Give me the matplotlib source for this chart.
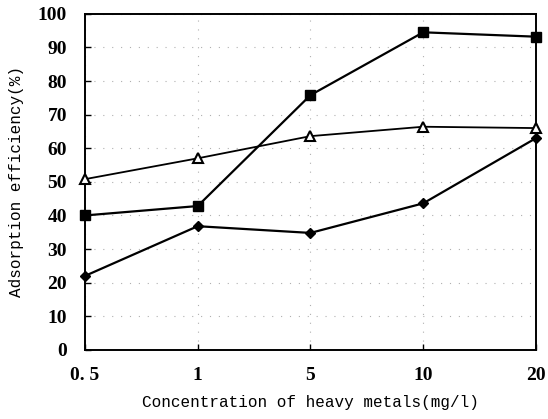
import matplotlib.pyplot as plt

conc_labels = ['0. 5', '1', '5', '10', '20']
square_vals = [40, 42.8, 75.8, 94.5, 93.2]
triangle_vals = [50.8, 57, 63.6, 66.4, 66.0]
diamond_vals = [22, 36.8, 34.8, 43.6, 63]

fig = plt.figure(figsize=(5.48, 4.19), dpi=100)
ax = fig.add_axes([0.155, 0.165, 0.823, 0.802])

x = range(len(conc_labels))
ax.plot(x, square_vals, color='black', lw=1.6, marker='s', ms=6.5, clip_on=False, zorder=3)
ax.plot(x, triangle_vals, color='black', lw=1.3, marker='^', ms=7, mfc='white', mew=1.5, clip_on=False, zorder=3)
ax.plot(x, diamond_vals, color='black', lw=1.6, marker='D', ms=5.5, clip_on=False, zorder=3)

ax.set_xlim(0, 4)
ax.set_ylim(0, 100)
ax.set_xticks(list(x))
ax.set_xticklabels(conc_labels)
ax.set_yticks(range(0, 101, 10))

tick_font = {'family': 'Liberation Serif', 'weight': 'bold', 'size': 14}
for lab in ax.get_xticklabels() + ax.get_yticklabels():
    lab.set_fontproperties(tick_font)

ax.tick_params(axis='y', direction='in', length=4, width=1, pad=13)
ax.tick_params(axis='x', direction='in', length=4, width=1, pad=12)
ax.grid(color='#b0b0b0', linestyle=(0, (1, 7)), linewidth=0.8)
for s in ax.spines.values():
    s.set_linewidth(1.4)

ax.set_xlabel('Concentration of heavy metals(mg/l)', family='Liberation Mono', fontsize=11.5, labelpad=8)
ax.set_ylabel('Adsorption efficiency(%)', family='Liberation Mono', fontsize=11.5, labelpad=10)

fig.savefig('out.png', dpi=100)
